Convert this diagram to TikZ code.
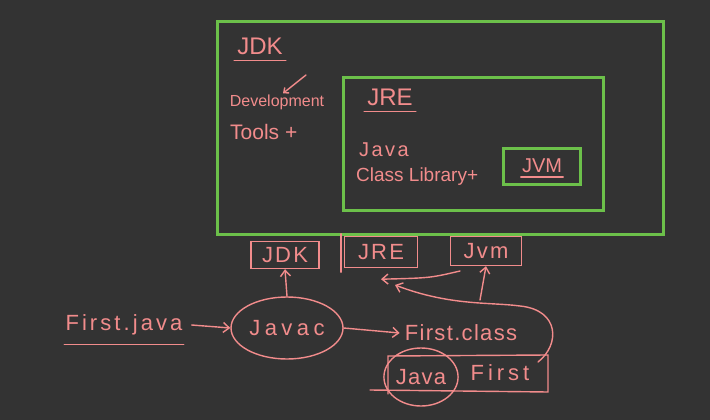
\documentclass[tikz,border=0pt]{standalone}
\usepackage{fontspec}
\setmainfont{Liberation Sans}
\usetikzlibrary{positioning, arrows.meta, shapes.geometric}

\definecolor{board}{HTML}{333333}
\definecolor{chalkgreen}{HTML}{6CC04A}
\definecolor{chalkpink}{HTML}{F28C8C}

\tikzset{
  greenbox/.style={draw=chalkgreen, line width=3pt},
  pink/.style={draw=chalkpink, line width=1.4pt, line cap=round},
  pinkarrow/.style={pink, -{Straight Barb[length=6pt, width=10pt]}},
  word/.style={text=chalkpink, inner sep=1pt, font=\fontsize{18}{20}\selectfont},
  bigword/.style={word, font=\fontsize{24}{26}\selectfont},
  spaced/.style={word, font=\fontsize{22}{24}\selectfont\addfontfeatures{LetterSpace=#1}},
  tag/.style={spaced=10, draw=chalkpink, line width=1.4pt},
  ring/.style={word, ellipse, draw=chalkpink, line width=1.4pt, inner sep=0pt},
}

\begin{document}
\begin{tikzpicture}[x=1pt, y=-1pt]
  \fill[board] (0,0) rectangle (710,420);
  \useasboundingbox (0,0) rectangle (710,420);

  % nested boxes: JDK > JRE > JVM
  \draw[greenbox] (217,22) rectangle (663,234);
  \draw[greenbox] (343,78) rectangle (603,210);
  \draw[greenbox] (503,148) rectangle (580,184);

  \node[bigword] (jdk) at (260,46) {JDK};
  \draw[pink] ([xshift=-2pt, yshift=-5pt]jdk.south west) -- ([xshift=2pt, yshift=-5pt]jdk.south east);
  \node[word, font=\fontsize{16}{18}\selectfont] (dev) at (277,102) {Development};
  \node[word, anchor=west, font=\fontsize{21}{23}\selectfont] (tools) at (229,132) {Tools +};
  \coordinate (tick) at (306,75);
  \draw[pink, -{Straight Barb[length=4pt, width=7pt]}] (tick) -- ([xshift=6pt]dev.north);

  \node[bigword] (jre) at (390,97) {JRE};
  \draw[pink] ([xshift=-2pt, yshift=-5pt]jre.south west) -- ([xshift=2pt, yshift=-5pt]jre.south east);
  \node[spaced=12, anchor=west, font=\fontsize{20}{22}\selectfont\addfontfeatures{LetterSpace=12}] (java) at (358,150) {Java};
  \node[word, anchor=west, font=\fontsize{19}{21}\selectfont] (lib) at (355,177) {Class Library+};

  \node[word, font=\fontsize{20}{22}\selectfont] (jvm) at (542,166) {JVM};
  \draw[pink] ([yshift=-3pt]jvm.south west) -- ([yshift=-3pt]jvm.south east);

  % the three parts below
  \node[tag, minimum width=68pt, minimum height=27pt] (jdktag) at (285,255) {JDK};
  \node[tag, minimum width=73pt, minimum height=31pt] (jretag) at (381,252) {JRE};
  \node[tag, minimum width=71pt, minimum height=29pt] (jvmtag) at (486,251) {Jvm};
  \draw[pink] ([xshift=-3pt, yshift=2pt]jretag.north west) -- ([xshift=-3pt, yshift=-4pt]jretag.south west);

  % compile step
  \node[spaced=14] (src) at (124,325) {First.java};
  \draw[pink] ([yshift=-8pt]src.south west) -- ([yshift=-8pt]src.south east);
  \node[ring, minimum width=112pt, minimum height=62pt, spaced=20] (javac) at (287,328) {Javac};
  \node[spaced=6] (cls) at (461,333) {First.class};
  \draw[pinkarrow] ([xshift=8pt]src.east) -- (javac.west);
  \draw[pinkarrow] (javac.east) -- ([xshift=-4pt]cls.west);
  \draw[pinkarrow] (javac.north) -- (jdktag.south);

  % byte code: java First
  \node[ring, minimum width=74pt, minimum height=58pt, spaced=6] (run) at (421,377) {Java};
  \node[spaced=18] (main) at (500,373) {First};
  \draw[pink] (370,390) -- (548,392) -- (548,355) -- (388,356) -- (388,394);

  % loop round First.class, feeding JRE and JVM
  \coordinate (hook) at (538,362);
  \coordinate (top) at (480,300);
  \coordinate (jvmfoot) at (460,271);
  \draw[pinkarrow] (hook) .. controls (560,345) and (560,310) .. (520,306)
    .. controls (490,302) and (450,306) .. (395,285);
  \draw[pinkarrow] (top) -- (jvmtag.south);
  \draw[pinkarrow] (jvmfoot) .. controls (430,278) .. ([yshift=-11pt]jretag.south);
\end{tikzpicture}
\end{document}
